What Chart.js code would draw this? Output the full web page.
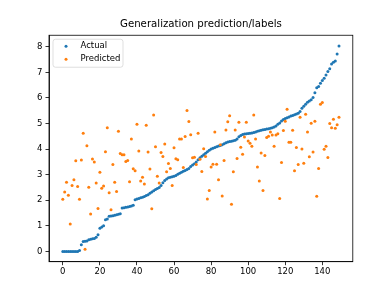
<!DOCTYPE html>
<html>
<head>
<meta charset="utf-8">
<script src="https://cdn.jsdelivr.net/npm/chart.js@4"></script>
<style>
  html, body { margin: 0; padding: 0; background: #fff; }
  #wrap { width: 392px; height: 294px; }
</style>
</head>
<body>
<div id="wrap"><canvas id="chart" width="392" height="294"></canvas></div>
<script>
const actual = [
    0, 0, 0, 0, 0, 0, 0, 0, 0, 0.04,
    0.26, 0.39, 0.4, 0.41, 0.46, 0.48, 0.49, 0.5, 0.55, 0.65,
    0.91, 0.95, 1.0, 1.24, 1.27, 1.37, 1.38, 1.39, 1.41, 1.43,
    1.45, 1.47, 1.7, 1.71, 1.73, 1.74, 1.76, 1.78, 1.8, 2.02,
    2.05, 2.07, 2.1, 2.12, 2.15, 2.19, 2.22, 2.27, 2.32, 2.37,
    2.42, 2.46, 2.5, 2.58, 2.68, 2.77, 2.83, 2.88, 2.9, 2.92,
    2.94, 2.97, 3.02, 3.06, 3.1, 3.13, 3.16, 3.2, 3.24, 3.32,
    3.38, 3.43, 3.5, 3.58, 3.66, 3.72, 3.78, 3.84, 3.9, 3.96,
    4.0, 4.03, 4.06, 4.09, 4.12, 4.14, 4.17, 4.21, 4.25, 4.28,
    4.3, 4.31, 4.33, 4.35, 4.4, 4.48, 4.53, 4.57, 4.59, 4.6,
    4.61, 4.62, 4.63, 4.65, 4.67, 4.7, 4.72, 4.74, 4.76, 4.77,
    4.79, 4.8, 4.82, 4.84, 4.86, 4.9, 4.97, 5.02, 5.1, 5.16,
    5.2, 5.23, 5.26, 5.29, 5.31, 5.34, 5.37, 5.4, 5.47, 5.6,
    5.68, 5.75, 5.83, 5.88, 5.93, 6.02, 6.2, 6.4, 6.45, 6.58,
    6.68, 6.77, 6.9, 7.03, 7.14, 7.33, 7.4, 7.45, 7.72, 8.03
];

const predicted = [
    2.04, 2.32, 2.7, 2.2, 1.07, 2.58, 2.8, 3.54, 2.54, 2.04,
    3.57, 4.62, 0.08, 4.13, 2.51, 1.46, 3.61, 3.5, 2.67, 1.68,
    3.1, 2.47, 2.56, 3.9, 4.84, 2.29, 1.63, 3.4, 2.7, 2.34,
    4.7, 3.83, 3.78, 3.78, 3.52, 3.55, 2.72, 4.4, 3.23, 3.15,
    4.97, 3.93, 2.75, 2.9, 2.64, 4.93, 3.89, 3.22, 1.67, 5.33,
    4.09, 2.94, 2.67, 3.87, 3.71, 4.2, 3.11, 3.44, 3.24, 2.58,
    4.05, 3.62, 3.58, 4.4, 4.4, 3.28, 4.49, 5.51, 5.08, 4.56,
    3.66, 3.68, 3.4, 4.62, 3.6, 3.12, 4.01, 3.71, 2.05, 2.38,
    3.3, 3.41, 4.67, 3.41, 2.8, 4.17, 2.17, 3.55, 4.75, 5.07,
    5.3, 1.84, 3.11, 4.75, 3.63, 5.05, 4.07, 3.8, 4.47, 5.05,
    4.32, 4.23, 4.11, 5.33, 4.4, 3.3, 2.75, 3.85, 2.38, 3.75,
    4.45, 4.5, 4.67, 4.55, 4.11, 4.55, 4.6, 2.07, 3.48, 4.73,
    5.09, 5.56, 4.27, 4.27, 4.74, 3.15, 4.06, 3.4, 5.25, 4.0,
    3.45, 5.36, 4.67, 3.7, 5.01, 3.89, 5.09, 2.16, 3.24, 5.75,
    5.82, 3.99, 4.11, 3.67, 5.0, 4.84, 5.17, 4.82, 4.95, 5.25
];

const xTicks = [0, 20, 40, 60, 80, 100, 120, 140];
const yTicks = [0, 1, 2, 3, 4, 5, 6, 7, 8];
const seriesNames = ['Actual', 'Predicted'];
const seriesColors = ['#1f77b4', '#ff7f0e'];

const FONT = 'DejaVu Sans';
const toPoints = arr => arr.map((v, i) => ({ x: i, y: v }));

// top/right spines and the boxed legend, like matplotlib
const extras = {
    id: 'extras',
    afterDraw(chart) {
        const { ctx, chartArea: a } = chart;
        ctx.save();
        ctx.strokeStyle = '#000';
        ctx.lineWidth = 0.8;
        ctx.strokeRect(a.left, a.top, a.right - a.left, a.bottom - a.top);

        const lx = a.left + 4, ly = a.top + 4, lw = 70, lh = 28, r = 2.5;
        ctx.beginPath();
        ctx.roundRect(lx, ly, lw, lh, r);
        ctx.fillStyle = 'rgba(255,255,255,0.8)';
        ctx.fill();
        ctx.strokeStyle = 'rgba(204,204,204,0.8)';
        ctx.lineWidth = 0.8;
        ctx.stroke();

        ctx.font = '8.5px "' + FONT + '"';
        ctx.textBaseline = 'middle';
        seriesNames.forEach((name, i) => {
            const cy = ly + 7 + i * 13;
            ctx.beginPath();
            ctx.arc(lx + 13, cy, 1.5, 0, Math.PI * 2);
            ctx.fillStyle = seriesColors[i];
            ctx.fill();
            ctx.fillStyle = '#000';
            ctx.fillText(name, lx + 27.5, cy);
        });
        ctx.restore();
    }
};

const tickFont = { family: FONT, size: 8.5 };

const config = {
    type: 'scatter',
    data: {
        datasets: [
            {
                label: seriesNames[0],
                data: toPoints(actual),
                backgroundColor: seriesColors[0],
                borderWidth: 0,
                pointRadius: 1.5,
                order: 2
            },
            {
                label: seriesNames[1],
                data: toPoints(predicted),
                backgroundColor: seriesColors[1],
                borderWidth: 0,
                pointRadius: 1.5,
                order: 1
            }
        ]
    },
    options: {
        responsive: false,
        animation: false,
        layout: { padding: { left: 0, right: 39.2, top: 0, bottom: 0 } },
        scales: {
            x: {
                type: 'linear',
                min: -7.45,
                max: 156.45,
                afterBuildTicks: s => { s.ticks = xTicks.map(v => ({ value: v })); },
                afterFit: s => { s.height = 32.3; },
                ticks: { font: tickFont, color: '#000', padding: 1, maxRotation: 0 },
                grid: { drawOnChartArea: false, tickLength: 3.5, color: '#000', tickWidth: 0.8 },
                border: { color: '#000', width: 0.8 }
            },
            y: {
                min: -0.4025,
                max: 8.4525,
                afterBuildTicks: s => { s.ticks = yTicks.map(v => ({ value: v })); },
                afterFit: s => { s.width = 49; },
                ticks: { font: tickFont, color: '#000', padding: 3 },
                grid: { drawOnChartArea: false, tickLength: 3.5, color: '#000', tickWidth: 0.8 },
                border: { color: '#000', width: 0.8 }
            }
        },
        plugins: {
            legend: { display: false },
            tooltip: { enabled: false },
            title: {
                display: true,
                fullSize: false,
                text: 'Generalization prediction/labels',
                color: '#000',
                font: { family: FONT, size: 10.2, weight: 'normal' },
                padding: { top: 18, bottom: 5 }
            }
        }
    },
    plugins: [extras]
};

const myChart = new Chart(document.getElementById('chart'), config);
</script>
</body>
</html>
